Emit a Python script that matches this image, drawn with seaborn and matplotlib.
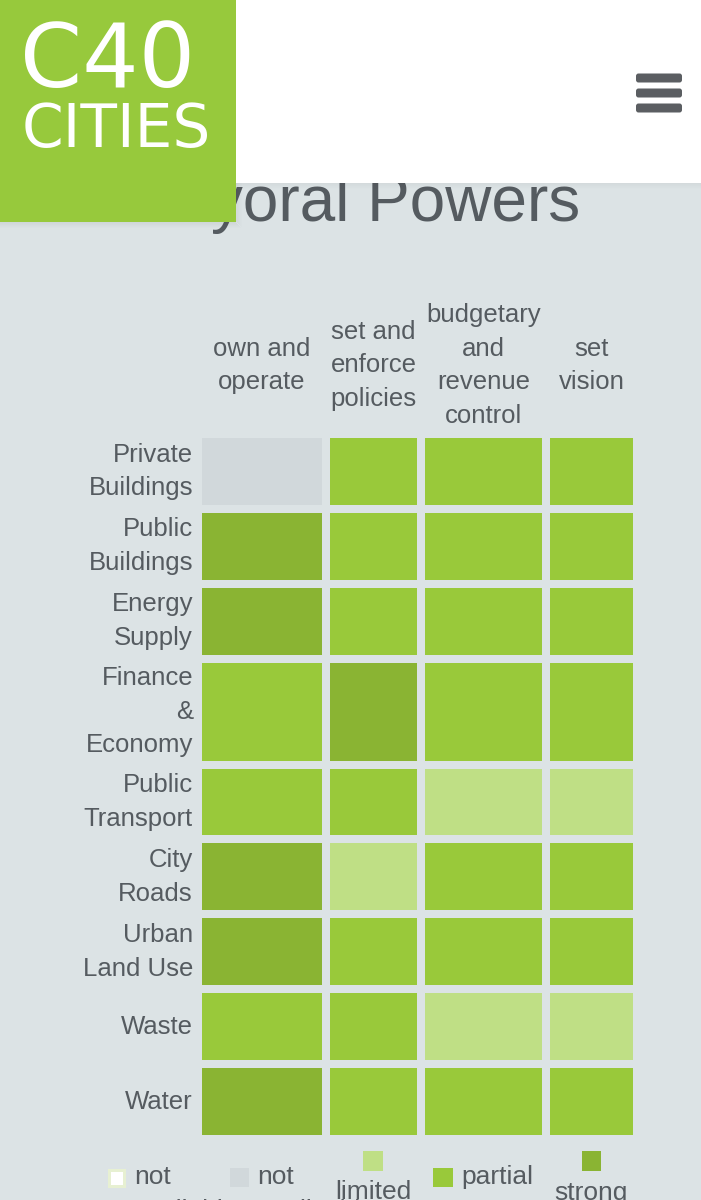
import numpy as np
import pandas as pd
import matplotlib
matplotlib.use("Agg")
import matplotlib.pyplot as plt
import seaborn as sns
from matplotlib.colors import ListedColormap
from matplotlib.patches import Rectangle, FancyBboxPatch
from matplotlib.gridspec import GridSpec

# ---------------- data ----------------
categories = ["Private\nBuildings", "Public\nBuildings", "Energy\nSupply",
              "Finance\n&\nEconomy", "Public\nTransport", "City\nRoads",
              "Urban\nLand Use", "Waste", "Water"]
powers = ["own and\noperate", "set and\nenforce\npolicies",
          "budgetary\nand\nrevenue\ncontrol", "set\nvision"]
levels = ["not available", "not applicable", "limited", "partial", "strong"]
legend_labels = ["not\navailable", "not\napplicable", "limited", "partial", "strong"]

own_and_operate = ["not applicable", "strong", "strong", "partial", "partial",
                   "strong", "strong", "partial", "strong"]
set_and_enforce = ["partial", "partial", "partial", "strong", "partial",
                   "limited", "partial", "partial", "partial"]
budgetary_control = ["partial", "partial", "partial", "partial", "limited",
                     "partial", "partial", "limited", "partial"]
set_vision = ["partial", "partial", "partial", "partial", "limited",
              "partial", "partial", "limited", "partial"]

# ---------------- styles ----------------
BG = "#dce3e5"
TXT = "#555b60"
GREEN_LOGO = "#97c93c"
level_colors = ["#fbfdf5", "#d1d8db", "#bfdf85", "#99c93a", "#8ab433"]
cmap = ListedColormap(level_colors)

sns.set_theme(style="white")
plt.rcParams["font.family"] = ["Liberation Sans", "DejaVu Sans"]

table = pd.DataFrame({powers[0]: own_and_operate, powers[1]: set_and_enforce,
                      powers[2]: budgetary_control, powers[3]: set_vision},
                     index=categories)
codes = table.apply(lambda s: s.map({k: i for i, k in enumerate(levels)}))

W, H = 701, 1200
fig = plt.figure(figsize=(W / 100, H / 100), dpi=100, facecolor=BG)

# page decoration layer (pixel coordinates)
bg = fig.add_axes([0, 0, 1, 1], zorder=0)
bg.set_xlim(0, W)
bg.set_ylim(H, 0)
bg.axis("off")
bg.set_facecolor(BG)

bg.text(580, 221, "Mayoral Powers", ha="right", va="baseline",
        fontsize=46, color=TXT, zorder=1)

# header bar with soft shadow
for k in range(6):
    bg.add_patch(Rectangle((236, 183 + k), W - 236, 1, fc="black",
                           alpha=0.035 * (6 - k) / 6, lw=0, zorder=2))
bg.add_patch(Rectangle((236, 0), W - 236, 183, fc="white", lw=0, zorder=3))
# logo with soft shadow
for k in range(6):
    bg.add_patch(Rectangle((0, 222 + k), 236 + k, 1, fc="black",
                           alpha=0.05 * (6 - k) / 6, lw=0, zorder=3))
    bg.add_patch(Rectangle((236 + k, 183), 1, 39 + k, fc="black",
                           alpha=0.04 * (6 - k) / 6, lw=0, zorder=3))
bg.add_patch(Rectangle((0, 0), 236, 222, fc=GREEN_LOGO, lw=0, zorder=4))
bg.text(20, 87, "C40", ha="left", va="baseline", fontsize=64,
        color="white", family="DejaVu Sans", zorder=5)
bg.text(22, 147, "CITIES", ha="left", va="baseline", fontsize=43,
        color="white", family="DejaVu Sans", zorder=5)
# hamburger menu
for yc in (78, 93, 108):
    bg.add_patch(FancyBboxPatch((636, yc - 4.5), 46, 9,
                                boxstyle="round,pad=0,rounding_size=2.5",
                                fc="#5b5e62", lw=0, zorder=5))

# ---------------- heatmap ----------------
col_w = [120, 87, 117, 83]
row_h = [67 + 31 * max(0, c.count("\n") - 1) for c in categories]
gap = 8
gs = GridSpec(len(categories), len(powers), figure=fig,
              left=202 / W, right=633 / W, top=1 - 438 / H, bottom=1 - 1135 / H,
              width_ratios=col_w, height_ratios=row_h,
              wspace=gap / np.mean(col_w), hspace=gap / np.mean(row_h))

px = 0.72  # points per pixel
LS = 1.52
for i, cat in enumerate(categories):
    for j, pw in enumerate(powers):
        ax = fig.add_subplot(gs[i, j])
        sns.heatmap(codes.iloc[[i], [j]], ax=ax, cmap=cmap, vmin=-0.5, vmax=4.5,
                    cbar=False, xticklabels=False, yticklabels=False)
        ax.set_xlabel("")
        ax.set_ylabel("")
        if j == 0:
            ax.annotate(cat, xy=(0, 0.5), xycoords="axes fraction",
                        xytext=(-9 * px, 0), textcoords="offset points",
                        ha="right", va="center", fontsize=18.5, color=TXT,
                        linespacing=LS, annotation_clip=False)
        if i == 0:
            ax.annotate(pw, xy=(0.5, 1), xycoords="axes fraction",
                        xytext=(0, 72.5 * px), textcoords="offset points",
                        ha="center", va="center", fontsize=18.5, color=TXT,
                        linespacing=LS, annotation_clip=False)

# ---------------- legend (web-wrapped layout) ----------------
# (swatch x, swatch y, w, h, text x, first-line top y, text ha)
legend_layout = [(107, 1168, 18, 19, 134, 1165, "left"),
                 (230, 1168, 19, 19, 257, 1165, "left"),
                 (363, 1151, 20, 20, 373, 1180, "center"),
                 (433, 1168, 20, 19, 461, 1165, "left"),
                 (582, 1151, 19, 20, 591, 1181, "center")]
for (sx, sy, sw, sh, tx, ty, ha), lab, col in zip(legend_layout, legend_labels, level_colors):
    if col == level_colors[0]:
        bg.add_patch(Rectangle((sx + 1.5, sy + 1.5), sw - 3, sh - 3, fc="white",
                               ec="#e7f0d2", lw=3 * px, zorder=2))
    else:
        bg.add_patch(Rectangle((sx, sy), sw, sh, fc=col, lw=0, zorder=2))
    bg.text(tx, ty, lab, ha=ha, va="top", fontsize=19, color=TXT,
            linespacing=LS, zorder=2)

fig.savefig("out.png", dpi=100, facecolor=BG)
